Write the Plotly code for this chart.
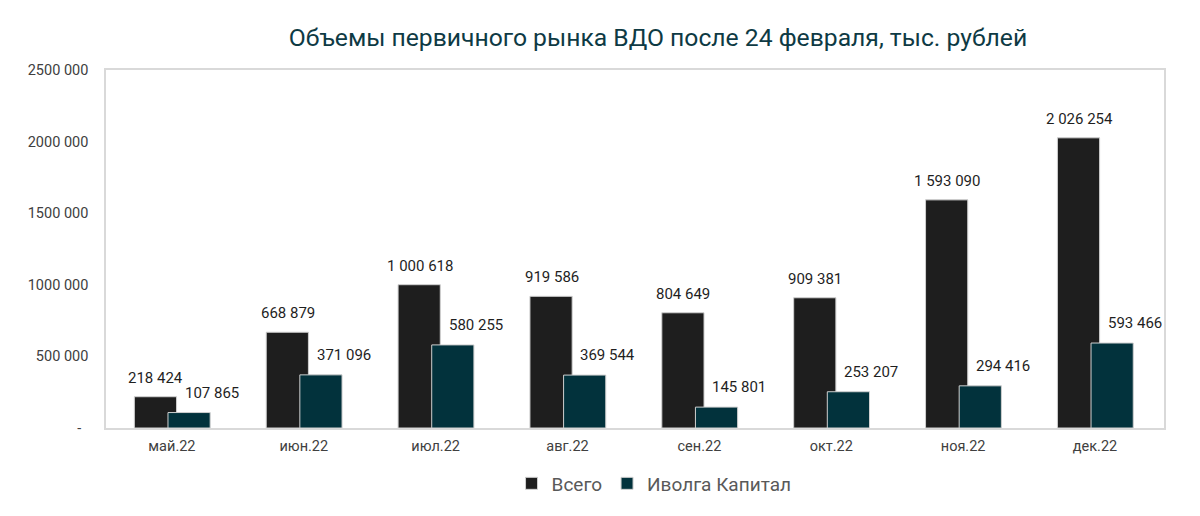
import plotly.graph_objects as go

categories = ["май.22", "июн.22", "июл.22", "авг.22", "сен.22", "окт.22", "ноя.22", "дек.22"]
total = [218424, 668879, 1000618, 919586, 804649, 909381, 1593090, 2026254]
ivolga = [107865, 371096, 580255, 369544, 145801, 253207, 294416, 593466]
series_names = ["Всего", "Иволга Капитал"]
tick_vals = [0, 500000, 1000000, 1500000, 2000000, 2500000]
tick_text = ["-\u00a0\u00a0", "500 000", "1000 000", "1500 000", "2000 000", "2500 000"]

BLACK = "#1e1e1e"
TEAL = "#02323c"
FONT = "Roboto"


def fmt(v):
    return f"{v:,}".replace(",", " ")


fig = go.Figure()
fig.add_trace(go.Bar(
    x=categories, y=total, name=series_names[0],
    marker=dict(color=BLACK, line=dict(color="#d0d0d0", width=1)),
    width=0.32, offset=-0.285,
))
fig.add_trace(go.Bar(
    x=categories, y=ivolga, name=series_names[1],
    marker=dict(color=TEAL, line=dict(color="#d0d0d0", width=1)),
    width=0.32, offset=-0.03,
))

annotations = []
for c, v in zip(categories, total):
    annotations.append(dict(x=c, y=v, xref="x", yref="y", text=fmt(v), showarrow=False,
                            xshift=-16, yshift=19, yanchor="middle",
                            font=dict(family=FONT, size=15, color="#1f1f1f")))
for c, v in zip(categories, ivolga):
    annotations.append(dict(x=c, y=v, xref="x", yref="y", text=fmt(v), showarrow=False,
                            xshift=40, yshift=20, yanchor="middle",
                            font=dict(family=FONT, size=15, color="#1f1f1f")))

# page body has an 8px default margin; compensate so the plot lands where the reference has it
fig.update_layout(
    width=1200, height=516,
    barmode="overlay",
    paper_bgcolor="white", plot_bgcolor="white",
    margin=dict(l=98, r=44, t=62, b=96),
    title=dict(text="Объемы первичного рынка ВДО после 24 февраля, тыс. рублей",
               x=650 / 1200, xanchor="center", y=1 - 29 / 516, yanchor="middle",
               font=dict(family=FONT, size=24.7, color="#0e3a44")),
    legend=dict(orientation="h", x=0.518, xanchor="center", y=-0.155, yanchor="middle",
                font=dict(family=FONT, size=19, color="#595959"),
                itemwidth=30, traceorder="normal"),
    annotations=annotations,
    font=dict(family=FONT, size=14, color="#404040"),
)
fig.update_xaxes(showline=True, mirror=True, linecolor="#d9d9d9", linewidth=1.5,
                 showgrid=False, ticks="", tickfont=dict(family=FONT, size=14.5, color="#404040"),
                 ticklabelstandoff=4)
fig.update_yaxes(range=[0, 2500000], tickvals=tick_vals, ticktext=tick_text,
                 showline=True, mirror=True, linecolor="#d9d9d9", linewidth=1.5,
                 showgrid=False, zeroline=False, ticks="",
                 tickfont=dict(family=FONT, size=14.5, color="#404040"),
                 ticklabelstandoff=13)

fig.write_html("out.html")
